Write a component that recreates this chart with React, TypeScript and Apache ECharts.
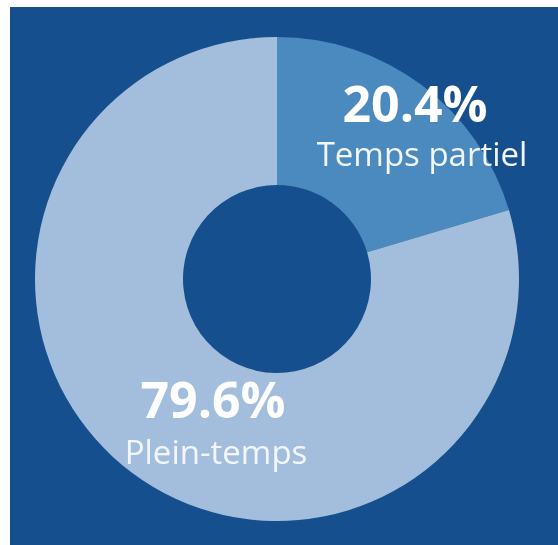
import React, { useEffect, useRef } from "react";
import * as echarts from "echarts";

const categories = ["Temps partiel", "Plein-temps"];
const values = [20.4, 79.6];
const sliceColors = ["#4b8abf", "#a3bedc"];

export default function App() {
  const ref = useRef<HTMLDivElement>(null);
  useEffect(() => {
    if (!ref.current) return;
    const chart = echarts.init(ref.current, null, { renderer: "svg" });
    const labelPos = [
      { x: 415, pctY: 103, nameX: 422, nameY: 153 },
      { x: 213, pctY: 399, nameX: 216, nameY: 451 },
    ];
    const texts: any[] = [];
    categories.forEach((c, i) => {
      texts.push({
        type: "text",
        x: labelPos[i].x,
        y: labelPos[i].pctY,
        z: 100,
        style: {
          text: values[i].toFixed(1) + "%",
          fill: "#ffffff",
          font: "bold 50px 'Open Sans', sans-serif",
          textAlign: "center",
          textVerticalAlign: "middle",
          lineHeight: 50,
        },
      });
      texts.push({
        type: "text",
        x: labelPos[i].nameX,
        y: labelPos[i].nameY,
        z: 100,
        style: {
          text: c,
          fill: "#f2f6fb",
          font: "33px 'Open Sans', sans-serif",
          textAlign: "center",
          textVerticalAlign: "middle",
          lineHeight: 33,
        },
      });
    });
    chart.setOption({
      animation: false,
      graphic: [
        {
          type: "rect",
          z: -10,
          shape: { x: 10, y: 7, width: 548, height: 538 },
          style: { fill: "#164f8d" },
        },
        ...texts,
      ],
      series: [
        {
          type: "pie",
          center: [277, 279],
          radius: [94, 242],
          startAngle: 90,
          clockwise: true,
          label: { show: false },
          labelLine: { show: false },
          emphasis: { disabled: true },
          itemStyle: { borderWidth: 0 },
          data: categories.map((c, i) => ({
            name: c,
            value: values[i],
            itemStyle: { color: sliceColors[i] },
          })),
        },
      ],
    });
    return () => chart.dispose();
  }, []);
  return (
    <div
      ref={ref}
      style={{ position: "fixed", left: 0, top: 0, width: 558, height: 545 }}
    />
  );
}
